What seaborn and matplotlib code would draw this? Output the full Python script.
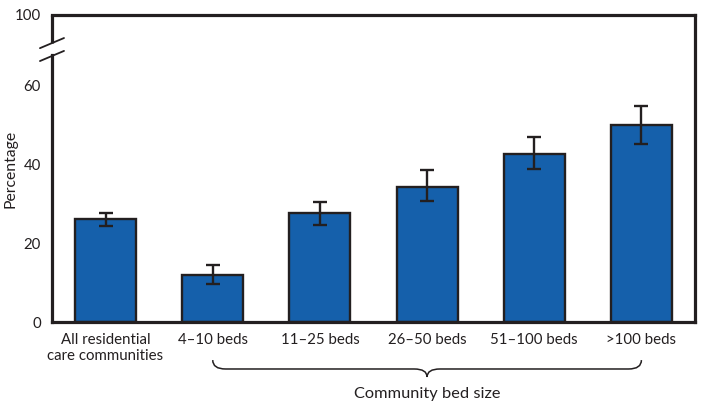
import numpy as np
import pandas as pd
import matplotlib
matplotlib.use("Agg")
import matplotlib.pyplot as plt
import matplotlib.transforms as mtransforms
from matplotlib.path import Path
from matplotlib.patches import PathPatch
import seaborn as sns

# Data
categories = ["All residential\ncare communities", "4\u201310 beds", "11\u201325 beds",
              "26\u201350 beds", "51\u2013100 beds", ">100 beds"]
percent = [26.1, 12.0, 27.6, 34.4, 42.8, 50.1]
ci_low = [24.4, 9.7, 24.7, 30.8, 38.9, 45.3]
ci_high = [27.6, 14.6, 30.6, 38.7, 47.0, 55.0]
ytick_vals = [0, 20, 40, 60]
ytick_labels = ["0", "20", "40", "60", "100"]

df = pd.DataFrame({"group": categories, "percent": percent})

sns.set_style("white")
plt.rcParams["font.family"] = ["Lato", "DejaVu Sans"]

dark = "#231f20"
blue = "#1560ab"
fs = 10.8

fig = plt.figure(figsize=(7.11, 4.13), dpi=100)
ax = fig.add_axes([0.0731, 0.2203, 0.9044, 0.7434])

sns.barplot(data=df, x="group", y="percent", color=blue, width=0.57,
            edgecolor=dark, linewidth=1.7, saturation=1, ax=ax)

xs = np.arange(len(categories))
err = [np.array(percent) - np.array(ci_low), np.array(ci_high) - np.array(percent)]
ax.errorbar(xs, percent, yerr=err, fmt="none", ecolor=dark, elinewidth=1.7,
            capsize=5, capthick=1.7, zorder=5)

# broken y axis: 0-60 linear, top of frame stands for 100
ytop = 78.0
ax.set_ylim(0, ytop)
ax.set_xlim(-0.5, len(categories) - 0.5)
ax.set_yticks(ytick_vals + [ytop])
ax.set_yticklabels(ytick_labels)
ax.set_xticks(xs)
ax.set_xticklabels(categories)

for s in ax.spines.values():
    s.set_visible(True)
    s.set_color(dark)
    s.set_linewidth(2.3)
ax.spines["left"].set_bounds(0, 67.9)
ax.plot([0, 0], [70.9, ytop], color=dark, lw=2.3, clip_on=False,
        transform=mtransforms.blended_transform_factory(ax.transAxes, ax.transData),
        solid_capstyle="butt")
for y0, y1 in [(0.892, 0.925), (0.850, 0.883)]:
    ax.plot([-0.0187, 0.0187], [y0, y1], color=dark, lw=1.3, clip_on=False,
            transform=ax.transAxes)

ax.tick_params(axis="both", direction="out", length=5, width=1.7, color=dark,
               labelsize=fs, labelcolor=dark, pad=3)
ax.set_xlabel("")
ax.set_ylabel("Percentage", fontsize=fs + 0.5, color=dark)
ax.yaxis.set_label_coords(-0.053, 0.5)

# brace under the bed-size groups
tr = mtransforms.blended_transform_factory(ax.transData, ax.transAxes)
xa, xb = 1, len(categories) - 1
xm = (xa + xb) / 2
ya, yb, yc = -0.124, -0.153, -0.179
dx = 0.12
verts = [(xa, ya), (xa, yb), (xa + dx, yb),
         (xm - dx, yb), (xm, yb), (xm, yc),
         (xm, yb), (xm + dx, yb),
         (xb - dx, yb), (xb, yb), (xb, ya)]
codes = [Path.MOVETO, Path.CURVE3, Path.CURVE3,
         Path.LINETO, Path.CURVE3, Path.CURVE3,
         Path.CURVE3, Path.CURVE3,
         Path.LINETO, Path.CURVE3, Path.CURVE3]
brace = PathPatch(Path(verts, codes), fill=False, edgecolor=dark, lw=1.1,
                  transform=tr, clip_on=False)
ax.add_patch(brace)
ax.text(xm, -0.235, "Community bed size", transform=tr, ha="center", va="center",
        fontsize=fs + 1, color=dark)

fig.savefig("out.png", dpi=100)
